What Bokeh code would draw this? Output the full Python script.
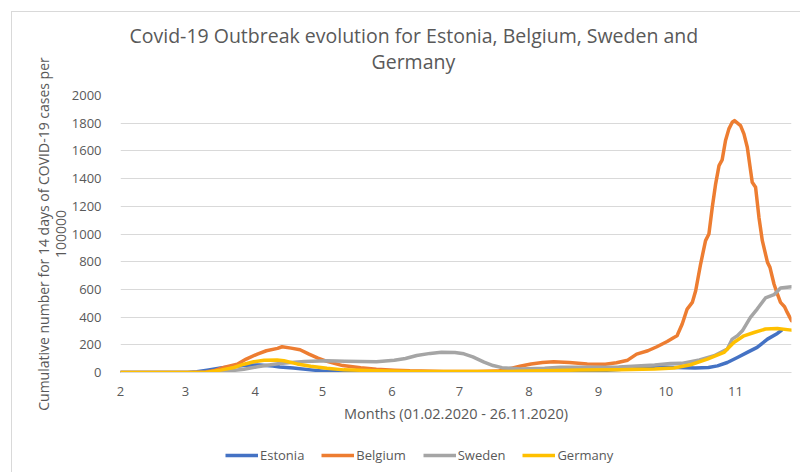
from bokeh.plotting import figure
from bokeh.layouts import column
from bokeh.models import (Range1d, FixedTicker, Legend, LegendItem, Title, LinearAxis)
from bokeh.embed import file_html
from bokeh.resources import INLINE

# ---------------- data (day index: 0 = 01.02.2020) ----------------
tick_days = [0, 29, 60, 90, 121, 151, 182, 213, 243, 274]
tick_labels = ["2", "3", "4", "5", "6", "7", "8", "9", "10", "11"]

estonia_days = [0, 30, 34, 38.6, 44.6, 50.5, 56, 62, 68, 71, 77, 84.7, 92, 100, 130, 160,
                180, 200, 215, 225, 232, 240, 248, 256, 262, 266, 270.4, 274.9, 279.3,
                283.7, 288.3, 292.7, 294.5]
estonia_vals = [0, 0, 5, 17, 32, 44, 52, 55, 47, 40, 32, 19, 8, 4, 3, 3,
                6, 6, 14, 26, 34, 40, 36, 32, 36, 48, 72, 108, 145,
                181, 241, 282, 305]

belgium_days = [0, 30, 38, 42, 46, 52, 56, 61, 65, 70, 72, 76, 80, 84, 88, 92, 99, 107,
                114, 122, 129, 144, 159, 168, 173, 178, 183, 188, 193, 200, 208, 216,
                221, 226, 230, 235, 239, 243.6, 246.6, 248, 250.3, 252.5, 254.8, 256.3,
                258.5, 260.7, 262.2, 263.7, 265.2, 266.7, 268.1, 269.6, 271.1, 272.6,
                273.6, 276.3, 277.8, 279.3, 281.5, 283, 284.5, 286, 288.3, 289.4, 291.2,
                292.7, 294.1, 295.9, 297.1, 299]
belgium_vals = [0, 0, 3, 15, 36, 60, 97, 133, 157, 174, 186, 176, 164, 133, 104, 80, 50, 34,
                24, 17, 12, 7, 7, 10, 25, 45, 62, 72, 77, 72, 62, 60,
                70, 89, 133, 157, 186, 224, 253, 265, 350, 458, 506, 590,
                783, 952, 1000, 1193, 1362, 1494, 1535, 1675, 1759, 1807,
                1819, 1783, 1723, 1626, 1373, 1337, 1120, 952, 795, 759, 639,
                567, 506, 475, 434, 374]

sweden_days = [0, 44, 49, 55, 61, 67, 71, 76, 82, 92, 100, 107, 114, 122, 127, 132, 138,
               143, 149, 153, 157, 162, 166, 170, 178, 189, 196, 205, 222, 238, 245, 250,
               258, 264.5, 270.4, 272.6, 274.9, 277.1, 280.7, 283.7, 287.4, 291.2, 294.1,
               299]
sweden_vals = [0, 0, 12, 24, 41, 56, 65, 72, 80, 85, 82, 80, 78, 88, 101, 123, 138,
               146, 145, 135, 113, 75, 50, 35, 26, 30, 38, 38, 40, 55, 65, 66,
               90, 121, 169, 241, 265, 301, 398, 458, 538, 562, 610,
               619]

germany_days = [0, 38, 44.6, 50.5, 55, 59.4, 64, 69.8, 72.8, 78.7, 84.7, 92, 99.5, 114, 130,
                150, 170, 188, 205, 222, 238, 246.6, 254, 261.5, 268.9, 273.3, 277.8,
                282.3, 287.4, 292.7, 299]
germany_vals = [0, 0, 17, 36, 60, 78, 88, 90, 85, 62, 45, 30, 19, 12, 8,
                7, 7, 12, 18, 20, 25, 32, 56, 97, 145, 217, 265,
                289, 314, 318, 306]

series_names = ["Estonia", "Belgium", "Sweden", "Germany"]
series_colors = ["#4472C4", "#ED7D31", "#A5A5A5", "#FFC000"]

title_lines = ["Covid-19 Outbreak evolution for Estonia, Belgium, Sweden and", "Germany"]
y_title_lines = ["Cumulative number for 14 days of COVID-19 cases per", "100000"]
x_title = "Months (01.02.2020 - 26.11.2020)"

FONT = "Open Sans"
TXT = "#595959"
BORDER = "1px solid #d9d9d9"

# ---------------- main chart ----------------
p = figure(width=789, height=428, output_backend="svg", toolbar_location=None,
           x_range=Range1d(0, 299), y_range=Range1d(0, 2000),
           min_border_left=108, min_border_right=10, min_border_top=83,
           min_border_bottom=68, margin=(11, 0, 0, 11),
           styles={"border-left": BORDER, "border-top": BORDER})
p.outline_line_color = None
p.background_fill_color = "white"
p.border_fill_color = "white"

# x axis
p.xaxis.ticker = FixedTicker(ticks=tick_days)
p.xaxis.major_label_overrides = {d: l for d, l in zip(tick_days, tick_labels)}
p.xaxis.axis_line_color = "#d9d9d9"
p.xaxis.axis_line_width = 1
p.xaxis.major_tick_line_color = None
p.xaxis.minor_tick_line_color = None
p.xaxis.major_label_standoff = 8
p.xaxis.major_label_text_font = FONT
p.xaxis.major_label_text_font_size = "13px"
p.xaxis.major_label_text_color = TXT
p.xaxis.axis_label = x_title
p.xaxis.axis_label_text_font = FONT
p.xaxis.axis_label_text_font_size = "14.5px"
p.xaxis.axis_label_text_font_style = "normal"
p.xaxis.axis_label_text_color = TXT
p.xaxis.axis_label_standoff = 5

# y axis (tick labels only)
p.yaxis.ticker = FixedTicker(ticks=list(range(0, 2001, 200)))
p.yaxis.axis_line_color = None
p.yaxis.major_tick_line_color = None
p.yaxis.minor_tick_line_color = None
p.yaxis.major_label_standoff = 13
p.yaxis.major_label_text_font = FONT
p.yaxis.major_label_text_font_size = "13px"
p.yaxis.major_label_text_color = TXT


def title_axis(text, standoff):
    # label-only axis; bounds keep the label centred lower, as in the reference
    return LinearAxis(ticker=FixedTicker(ticks=[]), bounds=(0, 1384),
                      axis_line_color=None, major_tick_line_color=None,
                      minor_tick_line_color=None, major_tick_out=0, major_tick_in=0,
                      minor_tick_out=0, major_label_standoff=0, axis_label=text,
                      axis_label_standoff=standoff, axis_label_text_font=FONT,
                      axis_label_text_font_size="14px",
                      axis_label_text_font_style="normal", axis_label_text_color=TXT)


p.add_layout(title_axis(y_title_lines[1], 3), "left")
p.add_layout(title_axis(y_title_lines[0], 0), "left")

p.xgrid.grid_line_color = None
p.ygrid.grid_line_color = "#d9d9d9"
p.ygrid.grid_line_width = 1

# series
data = [(estonia_days, estonia_vals), (belgium_days, belgium_vals),
        (sweden_days, sweden_vals), (germany_days, germany_vals)]
for (xs, ys), name, col in zip(data, series_names, series_colors):
    p.line(xs, ys, line_color=col, line_width=3.5, line_join="round", line_cap="round")

# title (two lines), spacer closest to the frame
p.add_layout(Title(text=" ", text_font_size="1px", standoff=18), "above")
t2 = Title(text=title_lines[1], align="left", offset=251, standoff=0,
           text_font=FONT, text_font_size="19.5px", text_font_style="normal", text_color=TXT)
t1 = Title(text=title_lines[0], align="left", offset=9, standoff=0,
           text_font=FONT, text_font_size="19.5px", text_font_style="normal", text_color=TXT)
try:
    t1.standoff = -6
except Exception:
    pass
p.add_layout(t2, "above")
p.add_layout(t1, "above")

# ---------------- legend strip (same series, drawn outside its visible range) ----------------
pl = figure(width=789, height=33, output_backend="svg", toolbar_location=None,
            x_range=Range1d(0, 299), y_range=Range1d(-2, -1),
            x_axis_type=None, y_axis_type=None,
            min_border_left=0, min_border_right=0, min_border_top=0, min_border_bottom=0,
            margin=(0, 0, 0, 11), styles={"border-left": BORDER})
pl.outline_line_color = None
pl.xgrid.grid_line_color = None
pl.ygrid.grid_line_color = None
items = []
for (xs, ys), name, col in zip(data, series_names, series_colors):
    r = pl.line(xs, ys, line_color=col, line_width=3.5)
    items.append(LegendItem(label=name, renderers=[r]))
legend = Legend(items=items, orientation="horizontal", location=(105, 7),
                glyph_width=33, glyph_height=20, label_standoff=2, spacing=17,
                padding=0, margin=0, border_line_color=None, background_fill_alpha=0,
                label_text_font=FONT, label_text_font_size="13px", label_text_color=TXT)
pl.add_layout(legend, "center")

layout = column(p, pl, spacing=0)
open("out.html", "w").write(file_html(layout, INLINE))
